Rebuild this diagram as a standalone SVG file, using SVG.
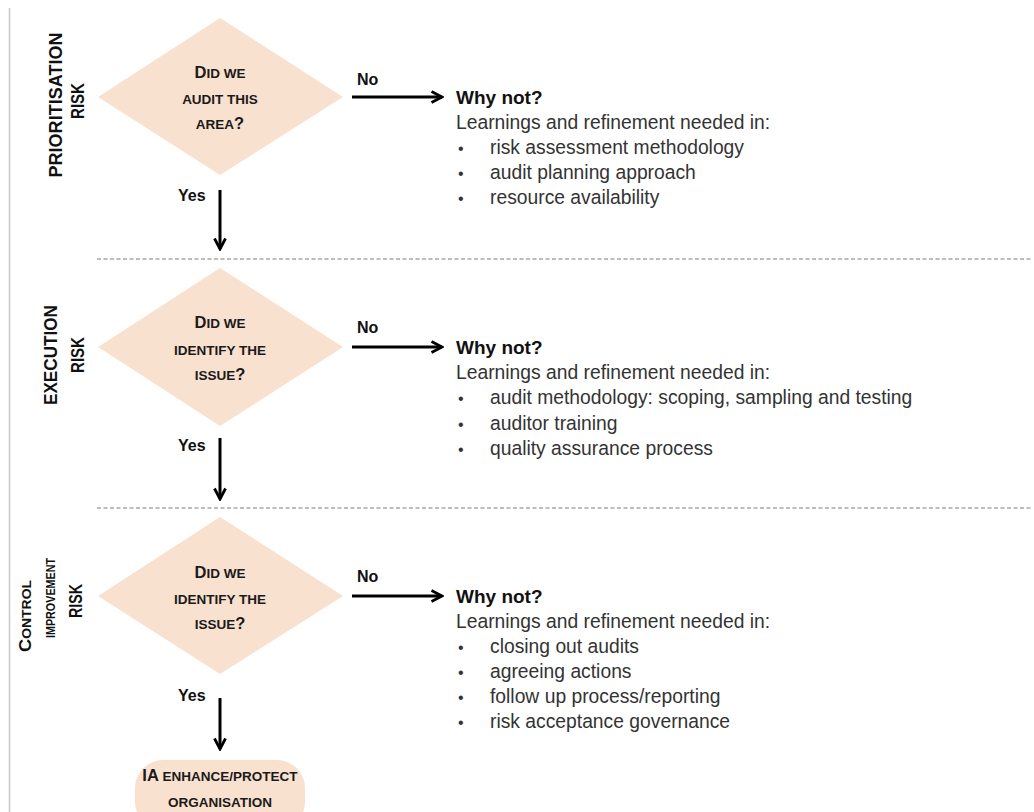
<svg xmlns="http://www.w3.org/2000/svg" width="1034" height="812" viewBox="0 0 1034 812">
<defs>
<marker id="ah" viewBox="0 0 14 14" refX="12" refY="7" markerWidth="14" markerHeight="14" markerUnits="userSpaceOnUse" orient="auto">
<path d="M1.5,1.5 L12,7 L1.5,12.5" fill="none" stroke="#000" stroke-width="2.8" stroke-linejoin="miter"/>
</marker>
<style>
.dia{fill:#f9e1d0;}
.sep{stroke:#bdbdbd;stroke-width:2;stroke-dasharray:4 2.5;fill:none;}
.arr{stroke:#000;stroke-width:3;fill:none;marker-end:url(#ah);}
.q{font-family:"Liberation Sans",Arial,sans-serif;font-weight:bold;font-size:13.5px;fill:#1a1a1a;text-anchor:middle;}
.big{font-size:16.5px;}
.lbl{font-family:"Liberation Sans",Arial,sans-serif;font-weight:bold;font-size:16px;fill:#111;}
.side{font-family:"Liberation Sans",Arial,sans-serif;font-weight:bold;font-size:18px;fill:#111;text-anchor:middle;}
.side2{font-family:"Liberation Sans",Arial,sans-serif;font-weight:bold;font-size:13px;fill:#111;text-anchor:middle;}
.why{font-family:"Liberation Sans",Arial,sans-serif;font-weight:bold;font-size:19px;fill:#111;}
.body{font-family:"Liberation Sans",Arial,sans-serif;font-size:19.3px;fill:#333;}
.bul{font-family:"Liberation Sans",Arial,sans-serif;font-size:16px;fill:#333;}
</style>
</defs>
<rect width="1034" height="812" fill="#fff"/>
<line x1="9.5" y1="8" x2="9.5" y2="812" stroke="#c8c8c8" stroke-width="1.5"/>
<line class="sep" x1="97" y1="259" x2="1032" y2="259"/>
<line class="sep" x1="97" y1="508" x2="1032" y2="508"/>

<g id="lane1-label">
<text class="side" transform="translate(61.5,105) rotate(-90)" textLength="145" lengthAdjust="spacingAndGlyphs">PRIORITISATION</text>
<text class="side" transform="translate(83.5,101) rotate(-90)" textLength="36" lengthAdjust="spacingAndGlyphs">RISK</text>
</g>
<g id="lane2-label">
<text class="side" transform="translate(56.5,355) rotate(-90)" textLength="100" lengthAdjust="spacingAndGlyphs">EXECUTION</text>
<text class="side" transform="translate(83.5,355) rotate(-90)" textLength="36" lengthAdjust="spacingAndGlyphs">RISK</text>
</g>
<g id="lane3-label">
<text class="side2" transform="translate(31,616) rotate(-90)" textLength="72" lengthAdjust="spacingAndGlyphs"><tspan font-size="17px">C</tspan>ONTROL</text>
<text class="side2" transform="translate(55,598) rotate(-90)" textLength="80" lengthAdjust="spacingAndGlyphs">IMPROVEMENT</text>
<text class="side" transform="translate(81.5,601) rotate(-90)" textLength="34" lengthAdjust="spacingAndGlyphs">RISK</text>
</g>

<g id="q1">
<polygon class="dia" points="220,18 343,97 220,175 98,97"/>
<text class="q" x="220" y="78"><tspan class="big">D</tspan>ID WE</text>
<text class="q" x="220" y="104">AUDIT THIS</text>
<text class="q" x="220" y="129">AREA<tspan class="big">?</tspan></text>
</g>
<g id="q2">
<polygon class="dia" points="220,268 343,347 220,426 98,347"/>
<text class="q" x="220" y="328"><tspan class="big">D</tspan>ID WE</text>
<text class="q" x="220" y="355">IDENTIFY THE</text>
<text class="q" x="220" y="380">ISSUE<tspan class="big">?</tspan></text>
</g>
<g id="q3">
<polygon class="dia" points="220,517 343,596 220,674 98,596"/>
<text class="q" x="220" y="578"><tspan class="big">D</tspan>ID WE</text>
<text class="q" x="220" y="604">IDENTIFY THE</text>
<text class="q" x="220" y="629">ISSUE<tspan class="big">?</tspan></text>
</g>
<g id="end">
<rect x="135" y="760" width="170" height="70" rx="28" fill="#f9e1d0"/>
<text class="q" x="220" y="781"><tspan class="big">IA</tspan> ENHANCE/PROTECT</text>
<text class="q" x="220" y="807">ORGANISATION</text>
</g>

<g id="why1">
<text class="why" x="456" y="104">Why not?</text>
<text class="body" x="456" y="129">Learnings and refinement needed in:</text>
<text class="bul" x="458" y="154">•</text><text class="body" x="490" y="154">risk assessment methodology</text>
<text class="bul" x="458" y="179">•</text><text class="body" x="490" y="179">audit planning approach</text>
<text class="bul" x="458" y="204">•</text><text class="body" x="490" y="204">resource availability</text>
</g>
<g id="why2">
<text class="why" x="456" y="354">Why not?</text>
<text class="body" x="456" y="379">Learnings and refinement needed in:</text>
<text class="bul" x="458" y="404">•</text><text class="body" x="490" y="404">audit methodology: scoping, sampling and testing</text>
<text class="bul" x="458" y="430">•</text><text class="body" x="490" y="430">auditor training</text>
<text class="bul" x="458" y="455">•</text><text class="body" x="490" y="455">quality assurance process</text>
</g>
<g id="why3">
<text class="why" x="456" y="603">Why not?</text>
<text class="body" x="456" y="628">Learnings and refinement needed in:</text>
<text class="bul" x="458" y="653">•</text><text class="body" x="490" y="653">closing out audits</text>
<text class="bul" x="458" y="678">•</text><text class="body" x="490" y="678">agreeing actions</text>
<text class="bul" x="458" y="703">•</text><text class="body" x="490" y="703">follow up process/reporting</text>
<text class="bul" x="458" y="728">•</text><text class="body" x="490" y="728">risk acceptance governance</text>
</g>

<g id="connectors">
<line class="arr" x1="352" y1="97" x2="442" y2="97"/>
<line class="arr" x1="352" y1="347" x2="442" y2="347"/>
<line class="arr" x1="352" y1="596" x2="442" y2="596"/>
<line class="arr" x1="220" y1="190" x2="220" y2="249"/>
<line class="arr" x1="220" y1="438" x2="220" y2="499"/>
<line class="arr" x1="220" y1="698" x2="220" y2="749"/>
<text class="lbl" x="357" y="85">No</text>
<text class="lbl" x="357" y="333">No</text>
<text class="lbl" x="357" y="582">No</text>
<text class="lbl" x="178" y="201">Yes</text>
<text class="lbl" x="178" y="451">Yes</text>
<text class="lbl" x="178" y="701">Yes</text>
</g>
</svg>
